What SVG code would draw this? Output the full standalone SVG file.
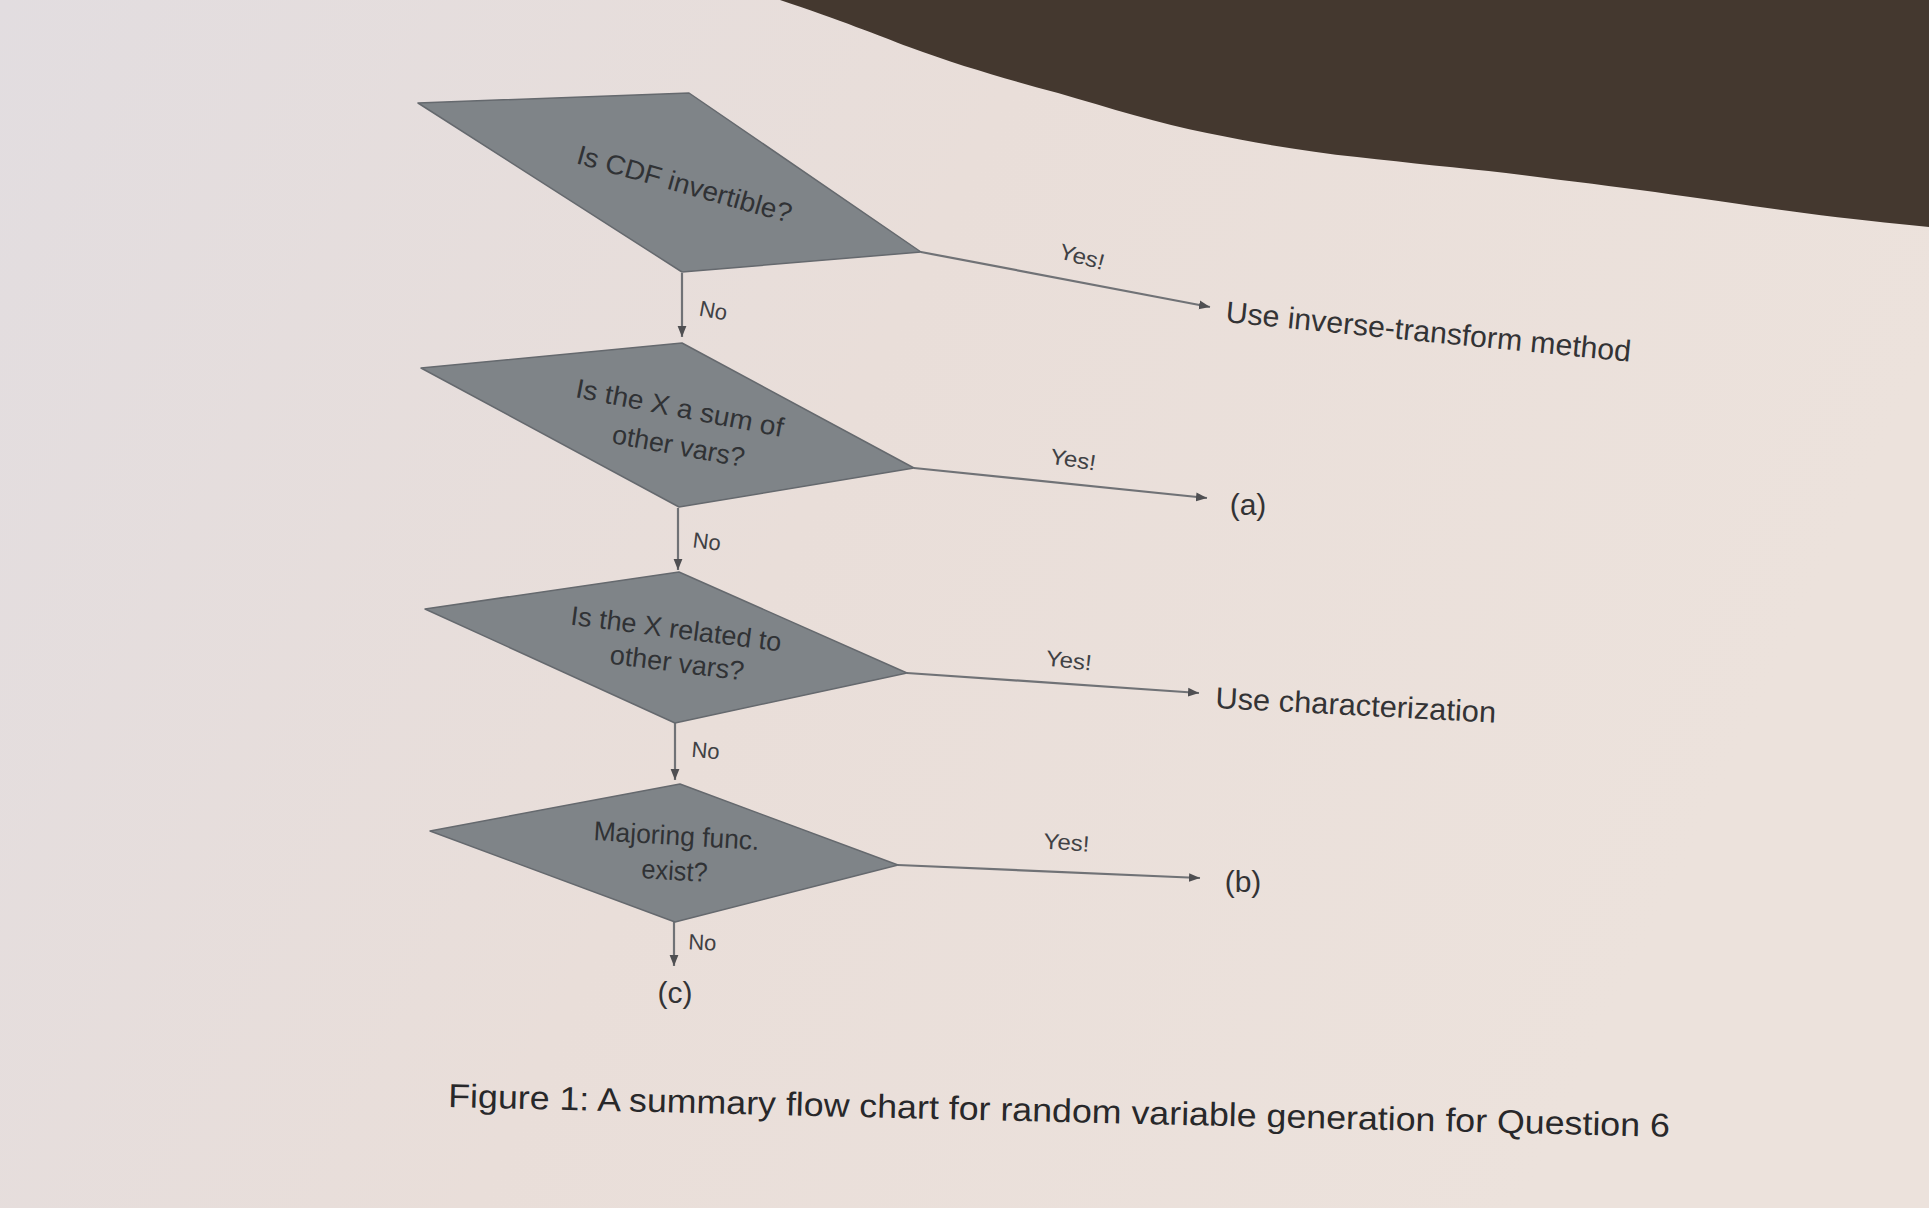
<svg xmlns="http://www.w3.org/2000/svg" width="1929" height="1208" viewBox="0 0 1929 1208">
  <defs>
    <linearGradient id="paper" x1="0" y1="0" x2="1" y2="0.3">
      <stop offset="0" stop-color="#e2dde0"/>
      <stop offset="0.5" stop-color="#e9ded9"/>
      <stop offset="1" stop-color="#ece2dc"/>
    </linearGradient>
    <marker id="ah" viewBox="0 0 10 10" refX="10" refY="5" markerWidth="11" markerHeight="11" markerUnits="userSpaceOnUse" orient="auto">
      <path d="M0,1 L10,5 L0,9 z" fill="#4f4f52"/>
    </marker>
    <style>
      .dia { fill: #7f8488; stroke: #65696e; stroke-width: 1.5; stroke-linejoin: round; }
      .dt { font-family: "Liberation Sans", Arial, sans-serif; font-size: 27px; fill: #303235; text-anchor: middle; }
      .lbl { font-family: "Liberation Sans", Arial, sans-serif; font-size: 22px; fill: #404144; text-anchor: middle; }
      .out { font-family: "Liberation Sans", Arial, sans-serif; font-size: 30px; fill: #333335; }
      .cn { fill: none; stroke: #707276; stroke-width: 2.2; marker-end: url(#ah); }
      .cap { font-family: "Liberation Sans Narrow", "Liberation Sans", Arial, sans-serif; font-size: 33px; fill: #28282a; }
    </style>
  </defs>

  <rect x="0" y="0" width="1929" height="1208" fill="url(#paper)"/>
  <path d="M780,0 C840,20 880,36 909,47 C960,66 1010,80 1058,93 C1110,108 1160,124 1207,133 C1260,144 1310,152 1357,157 C1410,163 1460,168 1506,173 C1560,180 1610,186 1655,192 C1710,200 1760,207 1804,213 C1850,219 1890,223 1929,227 L1929,0 Z" fill="#44382f"/>

  <g id="connectors">
    <line class="cn" x1="682" y1="273" x2="682" y2="337"/>
    <line class="cn" x1="678" y1="508" x2="678" y2="570"/>
    <line class="cn" x1="675" y1="723" x2="675" y2="780"/>
    <line class="cn" x1="674" y1="922" x2="674" y2="966"/>
    <line class="cn" x1="921" y1="252" x2="1210" y2="307"/>
    <line class="cn" x1="914" y1="468" x2="1207" y2="498"/>
    <line class="cn" x1="907" y1="673" x2="1199" y2="693"/>
    <line class="cn" x1="898" y1="865" x2="1200" y2="878"/>
    <text class="lbl" transform="translate(712,318) rotate(10)" font-size="25">No</text>
    <text class="lbl" transform="translate(706,549) rotate(7)" font-size="25">No</text>
    <text class="lbl" transform="translate(705,758) rotate(5)" font-size="25">No</text>
    <text class="lbl" transform="translate(702,950) rotate(3)" font-size="25">No</text>
    <text class="lbl" transform="translate(1080,264) rotate(15)" textLength="46" lengthAdjust="spacingAndGlyphs">Yes!</text>
    <text class="lbl" transform="translate(1072,467) rotate(9)" textLength="46" lengthAdjust="spacingAndGlyphs">Yes!</text>
    <text class="lbl" transform="translate(1068,668) rotate(6)" textLength="46" lengthAdjust="spacingAndGlyphs">Yes!</text>
    <text class="lbl" transform="translate(1066,850) rotate(4)" textLength="46" lengthAdjust="spacingAndGlyphs">Yes!</text>
  </g>

  <g id="d1">
    <polygon class="dia" points="418,103 689,93 921,252 682,272"/>
    <text class="dt" transform="translate(682,193) rotate(15.7)" textLength="222" lengthAdjust="spacingAndGlyphs">Is CDF invertible?</text>
  </g>
  <g id="d2">
    <polygon class="dia" points="421,368 682,343 914,468 679,507"/>
    <text class="dt" transform="translate(678,417) rotate(10.9)" textLength="211" lengthAdjust="spacingAndGlyphs">Is the X a sum of</text>
    <text class="dt" transform="translate(677,455) rotate(10.3)" textLength="134" lengthAdjust="spacingAndGlyphs">other vars?</text>
  </g>
  <g id="d3">
    <polygon class="dia" points="425,609 679,572 907,673 675,723"/>
    <text class="dt" transform="translate(675,638) rotate(7.3)" textLength="212" lengthAdjust="spacingAndGlyphs">Is the X related to</text>
    <text class="dt" transform="translate(676,672) rotate(7.2)" textLength="135" lengthAdjust="spacingAndGlyphs">other vars?</text>
  </g>
  <g id="d4">
    <polygon class="dia" points="430,831 680,784 898,865 675,922"/>
    <text class="dt" transform="translate(676,845) rotate(3.4)" textLength="166" lengthAdjust="spacingAndGlyphs">Majoring func.</text>
    <text class="dt" transform="translate(674,880) rotate(3.4)" textLength="66" lengthAdjust="spacingAndGlyphs">exist?</text>
  </g>

  <g id="t1">
    <text class="out" transform="translate(1225,322) rotate(5.6)" textLength="407" lengthAdjust="spacingAndGlyphs">Use inverse-transform method</text>
  </g>
  <g id="ta">
    <text class="out" x="1248" y="515" text-anchor="middle" font-size="28">(a)</text>
  </g>
  <g id="t3">
    <text class="out" transform="translate(1215,708) rotate(3)" textLength="281" lengthAdjust="spacingAndGlyphs">Use characterization</text>
  </g>
  <g id="tb">
    <text class="out" x="1243" y="892" text-anchor="middle" font-size="28">(b)</text>
  </g>
  <g id="tc">
    <text class="out" x="675" y="1003" text-anchor="middle" font-size="28">(c)</text>
  </g>

  <g id="caption">
    <text class="cap" transform="translate(448,1107) rotate(1.4)" textLength="1222" lengthAdjust="spacingAndGlyphs">Figure 1: A summary flow chart for random variable generation for Question 6</text>
  </g>
</svg>
